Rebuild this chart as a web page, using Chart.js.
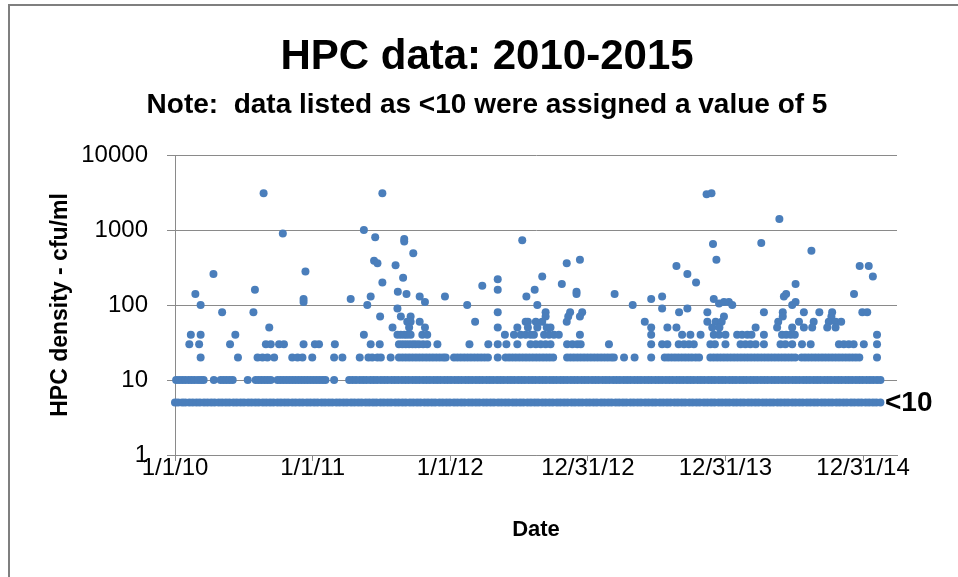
<!DOCTYPE html>
<html>
<head>
<meta charset="utf-8">
<script src="https://cdn.jsdelivr.net/npm/chart.js@4.4.1/dist/chart.umd.min.js"></script>
<style>
  html, body { margin: 0; padding: 0; background: #fff; }
  canvas { display: block; }
</style>
</head>
<body>
<canvas id="hpcChart" width="958" height="577"></canvas>
<script>
// days counted from 1/1/10
var tickDays = [0, 365, 730, 1095, 1460, 1825];
var xTickLabels = ['1/1/10', '1/1/11', '1/1/12', '12/31/12', '12/31/13', '12/31/14'];
var yTicks = [1, 10, 100, 1000, 10000];

// samples reported as <10 (plotted at 5)
var lt10Days = [0,8,19,27,38,47,57,66,77,86,96,105,116,125,135,144,155,164,174,183,194,203,213,222,233,242,252,261,272,281,291,300,311,320,330,339,350,359,369,378,389,398,408,417,428,437,447,456,467,476,486,495,506,515,525,534,545,554,564,573,584,593,603,612,623,632,642,651,662,671,681,690,701,710,720,729,740,749,759,768,779,788,798,807,818,827,837,846,857,866,876,885,896,905,915,924,935,944,954,963,974,983,993,1002,1013,1022,1032,1041,1052,1061,1071,1080,1091,1100,1110,1119,1130,1139,1149,1158,1169,1178,1188,1197,1208,1217,1227,1236,1247,1256,1266,1275,1286,1295,1305,1314,1325,1334,1344,1353,1364,1373,1383,1392,1403,1412,1422,1431,1442,1451,1461,1470,1481,1490,1500,1509,1520,1529,1539,1548,1559,1568,1578,1587,1598,1607,1617,1626,1637,1646,1656,1665,1676,1685,1695,1704,1715,1724,1734,1743,1754,1763,1773,1782,1793,1802,1812,1821,1832,1841,1851,1860,1871];

var tenDays = [3,11,19,27,36,44,52,61,69,76,103,121,129,137,145,153,193,214,222,230,238,246,254,272,280,288,296,304,312,320,328,336,344,352,360,368,376,384,392,399,422,
  462,471,480,490,499,508,518,527,536,546,555,564,574,583,592,602,611,620,630,639,648,658,667,676,686,695,704,714,723,732,742,751,760,770,779,788,798,807,816,826,835,844,854,863,872,882,891,900,910,919,928,938,947,956,966,975,984,994,1003,1012,1022,1031,1040,1050,1059,1068,1078,1087,1096,1106,1115,1124,1134,1143,1152,1162,1171,1180,1190,1199,1208,1218,1227,1236,1246,1255,1264,1274,1283,1292,1302,1311,1320,1330,1339,1348,1358,1367,1376,1386,1395,1404,1414,1423,1432,1442,1451,1460,1470,1479,1488,1498,1507,1516,1526,1535,1544,1554,1563,1572,1582,1591,1600,1610,1619,1628,1638,1647,1656,1666,1675,1684,1694,1703,1712,1722,1731,1740,1750,1759,1768,1778,1787,1796,1806,1815,1824,1834,1843,1852,1862,1871];

var twentyDays = [68,167,219,232,245,263,311,325,338,364,422,444,490,513,523,537,546,572,
  594,603,612,621,630,639,648,657,666,675,684,693,702,711,718,740,749,758,767,776,785,794,803,812,821,830,856,
  877,886,895,904,913,922,931,940,949,958,967,976,985,994,1003,1040,1049,1058,1067,1076,1085,1094,1103,1112,1121,1130,1139,1148,1157,1164,
  1191,1219,1263,1299,1308,1317,1326,1335,1344,1353,1362,1371,1381,1390,
  1420,1429,1438,1447,1456,1465,1474,1483,1492,1501,1510,1519,1528,1537,1546,1555,1564,1573,1582,1591,1600,1609,1618,1627,1636,1645,
  1662,1671,1680,1689,1698,1707,1716,1725,1734,1743,1752,1761,1770,1779,1788,1797,1806,1815,1862];

var thirtyDays = [38,64,146,241,254,276,289,341,371,382,424,519,543,594,603,612,621,630,638,647,658,669,696,781,831,856,879,908,
  943,957,970,983,996,1040,1054,1067,1076,1151,1263,1292,1306,1336,1350,1363,1376,1420,1432,1460,1500,1513,1526,1540,1562,1606,1619,1637,1663,1686,1761,1774,1787,1800,1827,1862];

var fortyDays = [42,68,160,501,590,599,608,616,625,656,669,875,899,917,930,943,952,979,992,1005,1018,1074,1263,1345,1367,
  1394,1429,1443,1460,1491,1504,1518,1529,1562,1610,1621,1633,1644,1862];

var highDays = [235,286,102,346,54,68,212,125,208,341,341,250,
  550,501,531,608,608,632,528,537,585,550,605,591,614,649,663,519,510,466,716,815,856,856,775,544,590,599,625,625,616,649,577,621,663,796,856,856,908,930,932,
  921,1039,1074,974,1026,954,1065,1065,961,1166,1214,1263,1292,1292,1330,1359,1382,1359,1337,983,983,1048,1043,1039,1080,1074,974,936,957,1246,986,996,936,961,1306,1330,1263,
  1410,1423,1603,1427,1436,1555,1688,1816,1840,1851,1646,1615,1621,1646,1637,1801,1429,1443,1456,1469,1478,
  1412,1562,1612,1668,1709,1743,1823,1836,1456,1612,1741,
  1412,1434,1450,1600,1655,1694,1734,1752,1767,1425,1444,1540,1597,1637,1668,1690,1730,1752];
var highValues = [3100,900,260,280,140,100,160,80,80,120,110,50,
  3100,1000,800,760,700,490,390,360,340,200,230,150,140,130,110,130,100,120,130,180,220,160,100,70,90,70,70,60,60,60,50,50,50,60,80,50,50,60,130,
  730,360,400,240,190,160,150,140,100,140,100,120,130,90,330,260,200,90,80,80,70,80,70,60,80,70,60,60,60,60,50,50,50,50,50,50,50,
  3000,3100,1400,650,400,670,530,330,330,240,190,130,140,110,100,140,120,105,110,110,100,
  80,80,80,80,80,80,80,80,70,70,70,
  60,60,60,60,60,60,60,60,60,50,50,50,50,50,50,50,50,50];

var points = [];
lt10Days.forEach(function(d){ points.push({x: d, y: 5}); });
tenDays.forEach(function(d){ points.push({x: d, y: 10}); });
twentyDays.forEach(function(d){ points.push({x: d, y: 20}); });
thirtyDays.forEach(function(d){ points.push({x: d, y: 30}); });
fortyDays.forEach(function(d){ points.push({x: d, y: 40}); });
highDays.forEach(function(d, i){ points.push({x: d, y: highValues[i]}); });

var frame = {
  id: 'frame',
  beforeDraw: function(chart){
    var c = chart.ctx;
    c.save();
    c.fillStyle = '#fff';
    c.fillRect(0, 0, chart.width, chart.height);
    c.strokeStyle = '#7f7f7f';
    c.lineWidth = 2;
    c.beginPath();
    c.moveTo(9, chart.height);
    c.lineTo(9, 5);
    c.lineTo(chart.width, 5);
    c.stroke();
    c.restore();
  }
};

var lt10Label = {
  id: 'lt10Label',
  afterDatasetsDraw: function(chart){
    var c = chart.ctx;
    c.save();
    c.font = 'bold 28px "Liberation Sans"';
    c.fillStyle = '#000';
    c.textBaseline = 'middle';
    c.fillText('<10', chart.chartArea.right - 12, chart.scales.y.getPixelForValue(5) + 1);
    c.restore();
  }
};

var ctx = document.getElementById('hpcChart');
new Chart(ctx, {
  type: 'scatter',
  data: {
    datasets: [{
      data: points,
      backgroundColor: '#4a7ebb',
      borderWidth: 0,
      pointRadius: 4,
      clip: false
    }]
  },
  plugins: [frame, lt10Label],
  options: {
    responsive: false,
    animation: false,
    devicePixelRatio: 1,
    layout: { padding: { left: 77, right: 61, top: 0, bottom: 0 } },
    plugins: {
      legend: { display: false },
      tooltip: { enabled: false },
      title: {
        display: true,
        text: 'HPC data: 2010-2015',
        color: '#000',
        font: { family: 'Liberation Sans', size: 42, weight: 'bold' },
        padding: { top: 32, bottom: 0 }
      },
      subtitle: {
        display: true,
        text: 'Note:  data listed as <10 were assigned a value of 5',
        color: '#000',
        font: { family: 'Liberation Sans', size: 28, weight: 'bold' },
        padding: { top: 6, bottom: 33 }
      }
    },
    scales: {
      x: {
        type: 'linear',
        min: 0,
        max: 1915,
        afterFit: function(scale){ scale.height = 122; },
        afterBuildTicks: function(scale){
          scale.ticks = tickDays.map(function(d){ return {value: d}; });
        },
        ticks: {
          color: '#000',
          padding: -7,
          maxRotation: 0,
          autoSkip: false,
          font: { family: 'Liberation Sans', size: 24 },
          callback: function(v){ return xTickLabels[tickDays.indexOf(v)]; }
        },
        grid: { drawOnChartArea: false, color: '#8a8a8a', tickLength: 6 },
        border: { color: '#8a8a8a', width: 1 },
        title: {
          display: true,
          text: 'Date',
          color: '#000',
          font: { family: 'Liberation Sans', size: 22, weight: 'bold' },
          padding: { top: 0, bottom: 34 }
        }
      },
      y: {
        type: 'logarithmic',
        min: 1,
        max: 10000,
        afterFit: function(scale){ scale.width = 98; },
        afterBuildTicks: function(scale){
          scale.ticks = yTicks.map(function(v){ return {value: v}; });
        },
        ticks: {
          color: '#000',
          padding: 19,
          font: { family: 'Liberation Sans', size: 24 },
          callback: function(v){ return String(v); }
        },
        grid: { color: '#8a8a8a', tickLength: 8 },
        border: { color: '#8a8a8a', width: 1 },
        title: {
          display: true,
          text: 'HPC density - cfu/ml',
          color: '#000',
          font: { family: 'Liberation Sans', size: 23, weight: 'bold' },
          padding: { top: -29.8, bottom: 0 }
        }
      }
    }
  }
});
</script>
</body>
</html>
